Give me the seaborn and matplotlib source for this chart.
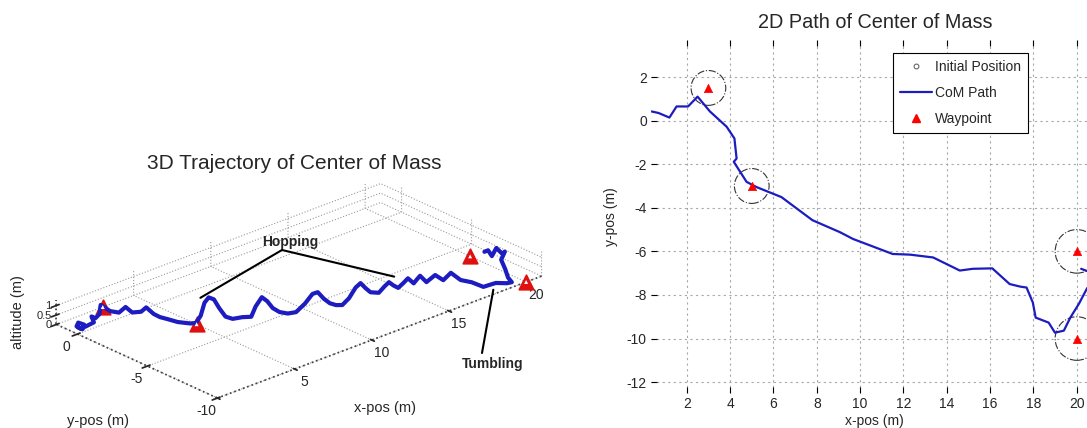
import matplotlib
matplotlib.use("Agg")
import numpy as np
import seaborn as sns
import matplotlib.pyplot as plt
from matplotlib.lines import Line2D
from matplotlib.patches import Circle
from mpl_toolkits.mplot3d import proj3d

# 2D path of the centre of mass (m)
path_x = [0.38, 0.70, 1.20, 1.53, 2.06, 2.50, 3.07, 3.84, 4.20, 4.30, 4.17, 4.76,
          5.22, 6.37, 7.80, 9.07, 9.67, 11.50, 12.30, 13.37, 14.60, 15.20, 16.10,
          16.90, 17.40, 17.68, 17.97, 18.10, 18.70, 18.99, 19.40, 19.70, 20.10,
          20.47, 20.90, 20.60, 20.20]
path_y = [0.42, 0.35, 0.14, 0.65, 0.65, 1.10, 0.42, -0.28, -0.82, -1.74, -1.89, -2.81,
          -3.05, -3.51, -4.57, -5.12, -5.43, -6.12, -6.15, -6.28, -6.88, -6.80, -6.78,
          -7.50, -7.62, -7.66, -8.35, -9.04, -9.27, -9.73, -9.64, -9.04, -8.40,
          -7.70, -7.20, -6.95, -6.80]

# waypoints and the radius of the circle drawn round each
wp_x = [3, 5, 20, 20]
wp_y = [1.5, -3, -6, -10]
wp_r = [0.8, 0.8, 1.0, 1.0]

# 3D trajectory (x, y, altitude), hops
traj_x = [0.40, 0.55, 0.75, 0.55, 0.35, 0.45, 0.80, 1.20, 1.50, 1.80, 2.10, 2.50,
          2.80, 3.07, 3.30, 3.55, 3.85, 4.00, 4.20, 4.25, 4.30, 4.50, 4.76, 5.00,
          5.22, 5.40, 5.60, 5.85, 6.10, 6.40, 6.70, 7.10, 7.45, 7.60, 7.80, 8.05,
          8.30, 8.60, 9.00, 9.40, 9.80, 10.15, 10.40, 10.70, 11.00, 11.30, 11.60,
          12.00, 12.40, 12.70, 13.00, 13.30, 13.70, 13.95, 14.15, 14.35, 14.55,
          14.90, 15.20, 15.40, 15.60, 15.85, 16.05, 16.30, 16.60, 16.90, 17.30,
          17.75, 17.97, 18.10, 18.40, 18.70, 19.00, 19.40, 19.70, 20.10, 20.47,
          20.80, 20.90, 20.70, 20.50, 20.30, 20.20]
traj_y = [0.40, 0.25, 0.35, 0.55, 0.45, 0.30, 0.30, 0.15, 0.65, 0.70, 0.75, 1.10,
          0.75, 0.42, 0.20, 0.00, -0.30, -0.50, -0.82, -1.20, -1.74, -2.20, -2.81, -2.95,
          -3.05, -3.12, -3.20, -3.30, -3.40, -3.52, -3.70, -3.95, -4.20, -4.35, -4.57, -4.68,
          -4.80, -4.95, -5.10, -5.25, -5.45, -5.60, -5.70, -5.80, -5.90, -6.02, -6.13,
          -6.17, -6.20, -6.22, -6.25, -6.27, -6.42, -6.55, -6.65, -6.75, -6.87,
          -6.86, -6.85, -6.84, -6.82, -6.80, -6.78, -6.96, -7.25, -7.50, -7.60,
          -7.80, -8.35, -9.04, -9.15, -9.27, -9.73, -9.64, -9.04, -8.40, -7.70,
          -7.60, -7.30, -7.10, -7.00, -6.95, -6.80]
traj_z = [0.10, 0.00, 0.15, 0.25, 0.15, 0.05, 0.05, 0.20, 0.25, 0.05, 0.15, 0.40,
          0.10, 0.05, 0.35, 0.05, 0.10, 0.35, 0.05, 0.00, 0.05, 0.00, 0.05, 0.05,
          0.40, 1.05, 1.30, 1.15, 0.65, 0.15, 0.00, 0.05, 0.05, 0.60, 1.10, 0.85,
          0.45, 0.20, 0.05, 0.05, 0.45, 0.90, 0.95, 0.55, 0.25, 0.10, 0.05,
          0.30, 0.75, 0.90, 0.55, 0.25, 0.15, 0.45, 0.65, 0.45, 0.30,
          0.45, 0.60, 0.40, 0.20, 0.35, 0.45, 0.10, 0.48, 0.20, 0.50,
          0.05, 0.05, 0.00, 0.05, 0.10, 0.15, 0.05, 0.00, 0.10, 0.25,
          0.55, 0.30, 0.60, 0.20, 0.55, 0.45]

x3_ticks = [0, 5, 10, 15, 20]
x3_labels = ['', '5', '10', '15', '20']
y3_ticks = [-10, -5, 0]
z3_ticks = [0, 0.5, 1]
z3_labels = ['0', '0.5', '1']

sns.set_theme(style="white")
plt.rcParams['font.family'] = ['Liberation Sans', 'DejaVu Sans']
plt.rcParams['axes.unicode_minus'] = False
plt.rcParams['grid.color'] = '#9a9a9a'
plt.rcParams['grid.linestyle'] = ':'
plt.rcParams['grid.linewidth'] = 0.8
plt.rcParams['xtick.labelsize'] = 10
plt.rcParams['ytick.labelsize'] = 10
plt.rcParams['axes.labelsize'] = 10

W, H = 1087, 428
fig = plt.figure(figsize=(W / 100, H / 100), dpi=100)
fig.patch.set_facecolor('white')


def fx(px):
    return px / W


def fy(py):
    return 1 - py / H


blue = '#1c1cc0'

# ---------------- left: 3D trajectory ----------------
side = 485
ax3 = fig.add_axes([fx(299 - 0.5135 * side), (140 - 0.5135 * side) / H, side / W, side / H],
                   projection='3d', proj_type='ortho')
ax3.set_facecolor('none')
ax3.set_xlim(0, 21)
ax3.set_ylim(-10, 1.5)
ax3.set_zlim(0, 1.3)
ax3.set_box_aspect((21, 11.5, 1.3))
ax3.view_init(elev=24.5, azim=-132.2)

ax3.plot(traj_x, traj_y, traj_z, color=blue, lw=3.0)
ax3.scatter(wp_x, wp_y, np.zeros(len(wp_x)), marker='^', s=110, c='#e01010',
            edgecolors='#e01010', linewidths=1.2, depthshade=False)
ax3.scatter(wp_x, wp_y, np.zeros(len(wp_x)), marker='^', s=8, c='white',
            edgecolors='none', depthshade=False)

ax3.set_xticks(x3_ticks)
ax3.set_xticklabels(x3_labels)
ax3.set_yticks(y3_ticks)
ax3.set_yticklabels([''] * len(y3_ticks))
ax3.set_zticks(z3_ticks)
ax3.set_zticklabels([''] * len(z3_ticks))
for axis in (ax3.xaxis, ax3.yaxis, ax3.zaxis):
    axis.set_pane_color((1, 1, 1, 0))
    axis.pane.set_edgecolor('#c8c8c8')
    axis.line.set_linestyle(':')
    axis.line.set_color('#444444')

M = ax3.get_proj()


def to2d(x, y, z):
    px, py, _ = proj3d.proj_transform(x, y, z, M)
    return px, py


# y and z tick labels placed next to the projected tick positions
for yt in y3_ticks:
    ax3.annotate(str(yt), xy=to2d(0, yt, 0), xytext=(-11, -13), textcoords='offset pixels',
                 ha='center', va='center', fontsize=10, annotation_clip=False)
for zt, zl in zip(z3_ticks, z3_labels):
    ax3.annotate(zl, xy=to2d(0, 1.5, zt), xytext=(-5, -1), textcoords='offset pixels',
                 ha='right', va='center', fontsize=8, annotation_clip=False)

fig.text(fx(385), fy(408), 'x-pos (m)', ha='center', va='center', fontsize=10.5)
fig.text(fx(98), fy(421), 'y-pos (m)', ha='center', va='center', fontsize=10.5)
fig.text(fx(18), fy(312), 'altitude (m)', ha='center', va='center', fontsize=10.5,
         rotation=90)
fig.text(fx(294), fy(164), '3D Trajectory of Center of Mass', ha='center', va='center',
         fontsize=15)

# annotations pointing at the projected data
hop_targets = [(5.2, -3.05, 1.35), (14.4, -6.75, 0.9)]
for tx, ty, tz in hop_targets:
    ax3.annotate('', xy=to2d(tx, ty, tz), xycoords='data',
                 xytext=(fx(282), fy(250)), textcoords='figure fraction',
                 arrowprops=dict(arrowstyle='-', color='black', lw=1.5,
                                 shrinkA=0, shrinkB=0), annotation_clip=False)
fig.text(fx(290), fy(242), 'Hopping', ha='center', va='center', fontsize=10,
         fontweight='bold')
ax3.annotate('', xy=to2d(18.6, -9.2, -0.25), xycoords='data',
             xytext=(fx(482), fy(353)), textcoords='figure fraction',
             arrowprops=dict(arrowstyle='-', color='black', lw=1.5,
                             shrinkA=0, shrinkB=0), annotation_clip=False)
fig.text(fx(493), fy(364), 'Tumbling', ha='center', va='center', fontsize=10,
         fontweight='bold')

# ---------------- right: 2D path ----------------
ax2 = fig.add_axes([fx(651), fy(393), (1098.5 - 651) / W, (393 - 40) / H])
for cx, cy, r in zip(wp_x, wp_y, wp_r):
    ax2.add_patch(Circle((cx, cy), r, fill=False, ls='-.', lw=0.8, ec='#333333', zorder=2))
sns.lineplot(x=path_x, y=path_y, sort=False, estimator=None, color=blue, lw=1.6,
             ax=ax2, zorder=3)
sns.scatterplot(x=wp_x, y=wp_y, marker='^', s=36, color='red', edgecolor='red',
                ax=ax2, zorder=4)
ax2.set_xlim(0.35, 21.0)
ax2.set_ylim(-12.5, 3.7)
ax2.set_xticks(np.arange(2, 21, 2))
ax2.set_yticks(np.arange(-12, 3, 2))
ax2.grid(True, color='#a8a8a8', ls=(0, (2, 3)), lw=0.8)
for s in ax2.spines.values():
    s.set_visible(False)
ax2.tick_params(direction='in', length=4, width=0.8, color='black', top=True, right=True,
                bottom=True, left=True, pad=3)
ax2.set_xlabel('x-pos (m)', labelpad=2)
ax2.set_ylabel('y-pos (m)', labelpad=6)
ax2.set_title('2D Path of Center of Mass', fontsize=14.3, pad=9)

handles = [Line2D([], [], color='#555555', marker='o', ms=3.5, mfc='none', mew=0.7,
                  ls='none'),
           Line2D([], [], color=blue, lw=1.6),
           Line2D([], [], color='red', marker='^', ls='none', ms=6)]
leg = ax2.legend(handles, ['Initial Position', 'CoM Path', 'Waypoint'], loc='upper left',
                 bbox_to_anchor=((893 - 651) / (1098.5 - 651), 1 - 13 / 353),
                 fancybox=False, framealpha=1, edgecolor='black', fontsize=10,
                 handlelength=2.3, handletextpad=0.2, borderpad=0.5, borderaxespad=0,
                 labelspacing=0.85)
leg.get_frame().set_linewidth(0.8)

fig.savefig('out.png', dpi=100, facecolor='white')
